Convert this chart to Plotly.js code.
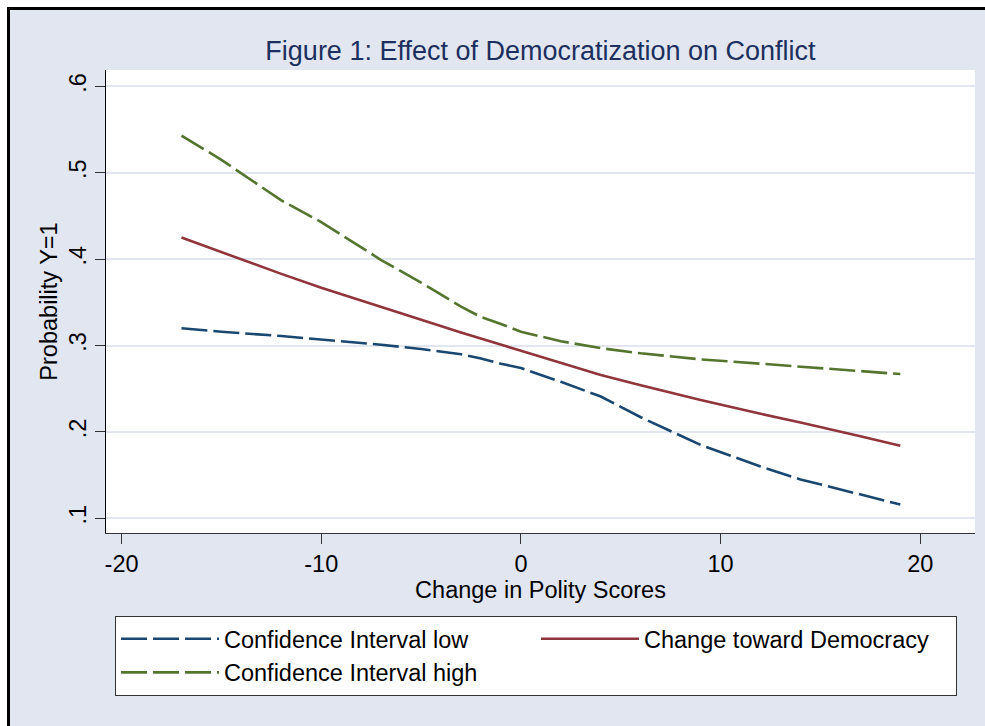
<!DOCTYPE html>
<html>
<head>
<meta charset="utf-8">
<script src="https://cdn.plot.ly/plotly-3.0.1.min.js"></script>
<style>
  html, body { margin: 0; padding: 0; background: #ffffff; }
  #chart { width: 985px; height: 726px; }
</style>
</head>
<body>
<div id="chart"></div>
<script>
// ---- data ----
const xLow  = [-17, -15, -12, -10, -7, -5, -3, -2, -1, 0, 2, 4, 6, 9, 12, 14, 17, 19];
const ciLow = [0.320, 0.316, 0.311, 0.307, 0.301, 0.296, 0.290, 0.285, 0.279, 0.274, 0.258, 0.241, 0.217, 0.185, 0.160, 0.145, 0.128, 0.116];

const xMid  = [-17, -15, -12, -10, -7, -5, -3, 0, 2, 4, 6, 9, 12, 14, 17, 19];
const demo  = [0.425, 0.408, 0.383, 0.367, 0.345, 0.330, 0.315, 0.294, 0.280, 0.266, 0.254, 0.237, 0.221, 0.211, 0.195, 0.184];

const xHigh  = [-17, -15, -12, -10, -7, -5, -3, -2, -1, 0, 2, 4, 6, 9, 12, 14, 17, 19];
const ciHigh = [0.543, 0.515, 0.468, 0.443, 0.399, 0.373, 0.345, 0.333, 0.325, 0.316, 0.305, 0.297, 0.291, 0.284, 0.279, 0.2755, 0.270, 0.267];

const seriesNames = ["Confidence Interval low", "Change toward Democracy", "Confidence Interval high"];
const yTickVals = [0.1, 0.2, 0.3, 0.4, 0.5, 0.6];
const yTickText = [".1", ".2", ".3", ".4", ".5", ".6"];
const xTickVals = [-20, -10, 0, 10, 20];
const xTickText = ["-20", "-10", "0", "10", "20"];

// ---- styling ----
const BG = "#E1E6F0";
const FONT = "Arial, 'Liberation Sans', sans-serif";
const FS = 23.5;
const W = 985, H = 726;
const M = { l: 106, r: 10, t: 70, b: 193 };
const PW = W - M.l - M.r, PH = H - M.t - M.b;
const px = v => (v - M.l) / PW;
const py = v => (M.t + PH - v) / PH;

const traces = [
  { x: xLow, y: ciLow, name: seriesNames[0], type: "scatter", mode: "lines",
    line: { color: "#1a476f", width: 2.6, dash: "26px,6px" } },
  { x: xMid, y: demo, name: seriesNames[1], type: "scatter", mode: "lines",
    line: { color: "#90353b", width: 2.6 } },
  { x: xHigh, y: ciHigh, name: seriesNames[2], type: "scatter", mode: "lines",
    line: { color: "#55752f", width: 2.6, dash: "26px,6px" } }
];

const layout = {
  width: W, height: H,
  margin: M,
  paper_bgcolor: BG,
  plot_bgcolor: "#ffffff",
  font: { family: FONT, size: FS, color: "#000000" },
  title: {
    text: "Figure 1: Effect of Democratization on Conflict",
    font: { family: FONT, size: 27, color: "#1c2f5e" },
    x: 0.5, xref: "paper", xanchor: "center",
    y: 1 - 51 / H, yref: "container", yanchor: "middle"
  },
  xaxis: {
    range: [-20.78, 22.74],
    tickmode: "array", tickvals: xTickVals, ticktext: xTickText,
    ticks: "outside", ticklen: 10, tickwidth: 1, tickcolor: "#333333",
    showline: true, linecolor: "#333333", linewidth: 1,
    showgrid: false, zeroline: false,
    tickfont: { family: FONT, size: FS, color: "#000000" },
    title: { text: "Change in Polity Scores", font: { family: FONT, size: FS, color: "#000000" }, standoff: 2 }
  },
  yaxis: {
    range: [0.083, 0.619],
    tickmode: "array", tickvals: yTickVals, ticktext: yTickText,
    tickangle: -90,
    ticks: "outside", ticklen: 10, tickwidth: 1, tickcolor: "#333333",
    showline: true, linecolor: "#000000", linewidth: 1,
    showgrid: true, gridcolor: BG, gridwidth: 2,
    zeroline: false,
    tickfont: { family: FONT, size: FS, color: "#000000" },
    title: { text: "Probability Y=1", font: { family: FONT, size: FS, color: "#000000" }, standoff: 0 }
  },
  showlegend: true,
  legend: {
    orientation: "h",
    x: px(115), xanchor: "left",
    y: py(616), yanchor: "top",
    bgcolor: "#ffffff", bordercolor: "#333333", borderwidth: 1,
    font: { family: FONT, size: FS, color: "#000000" },
    itemwidth: 98,
    entrywidth: 307,
    traceorder: "normal"
  },
  shapes: [
    { type: "rect", xref: "paper", yref: "paper", x0: px(0), x1: px(7), y0: py(0), y1: py(H),
      fillcolor: "#ffffff", line: { width: 0 } },
    { type: "rect", xref: "paper", yref: "paper", x0: px(0), x1: px(W), y0: py(0), y1: py(7),
      fillcolor: "#ffffff", line: { width: 0 } },
    { type: "line", xref: "paper", yref: "paper", x0: px(8.5), x1: px(8.5), y0: py(7), y1: py(H),
      line: { color: "#000000", width: 3 } },
    { type: "line", xref: "paper", yref: "paper", x0: px(7), x1: px(W), y0: py(8.5), y1: py(8.5),
      line: { color: "#000000", width: 3 } }
  ]
};

Plotly.newPlot("chart", traces, layout, { displayModeBar: false, staticPlot: true });
</script>
</body>
</html>
